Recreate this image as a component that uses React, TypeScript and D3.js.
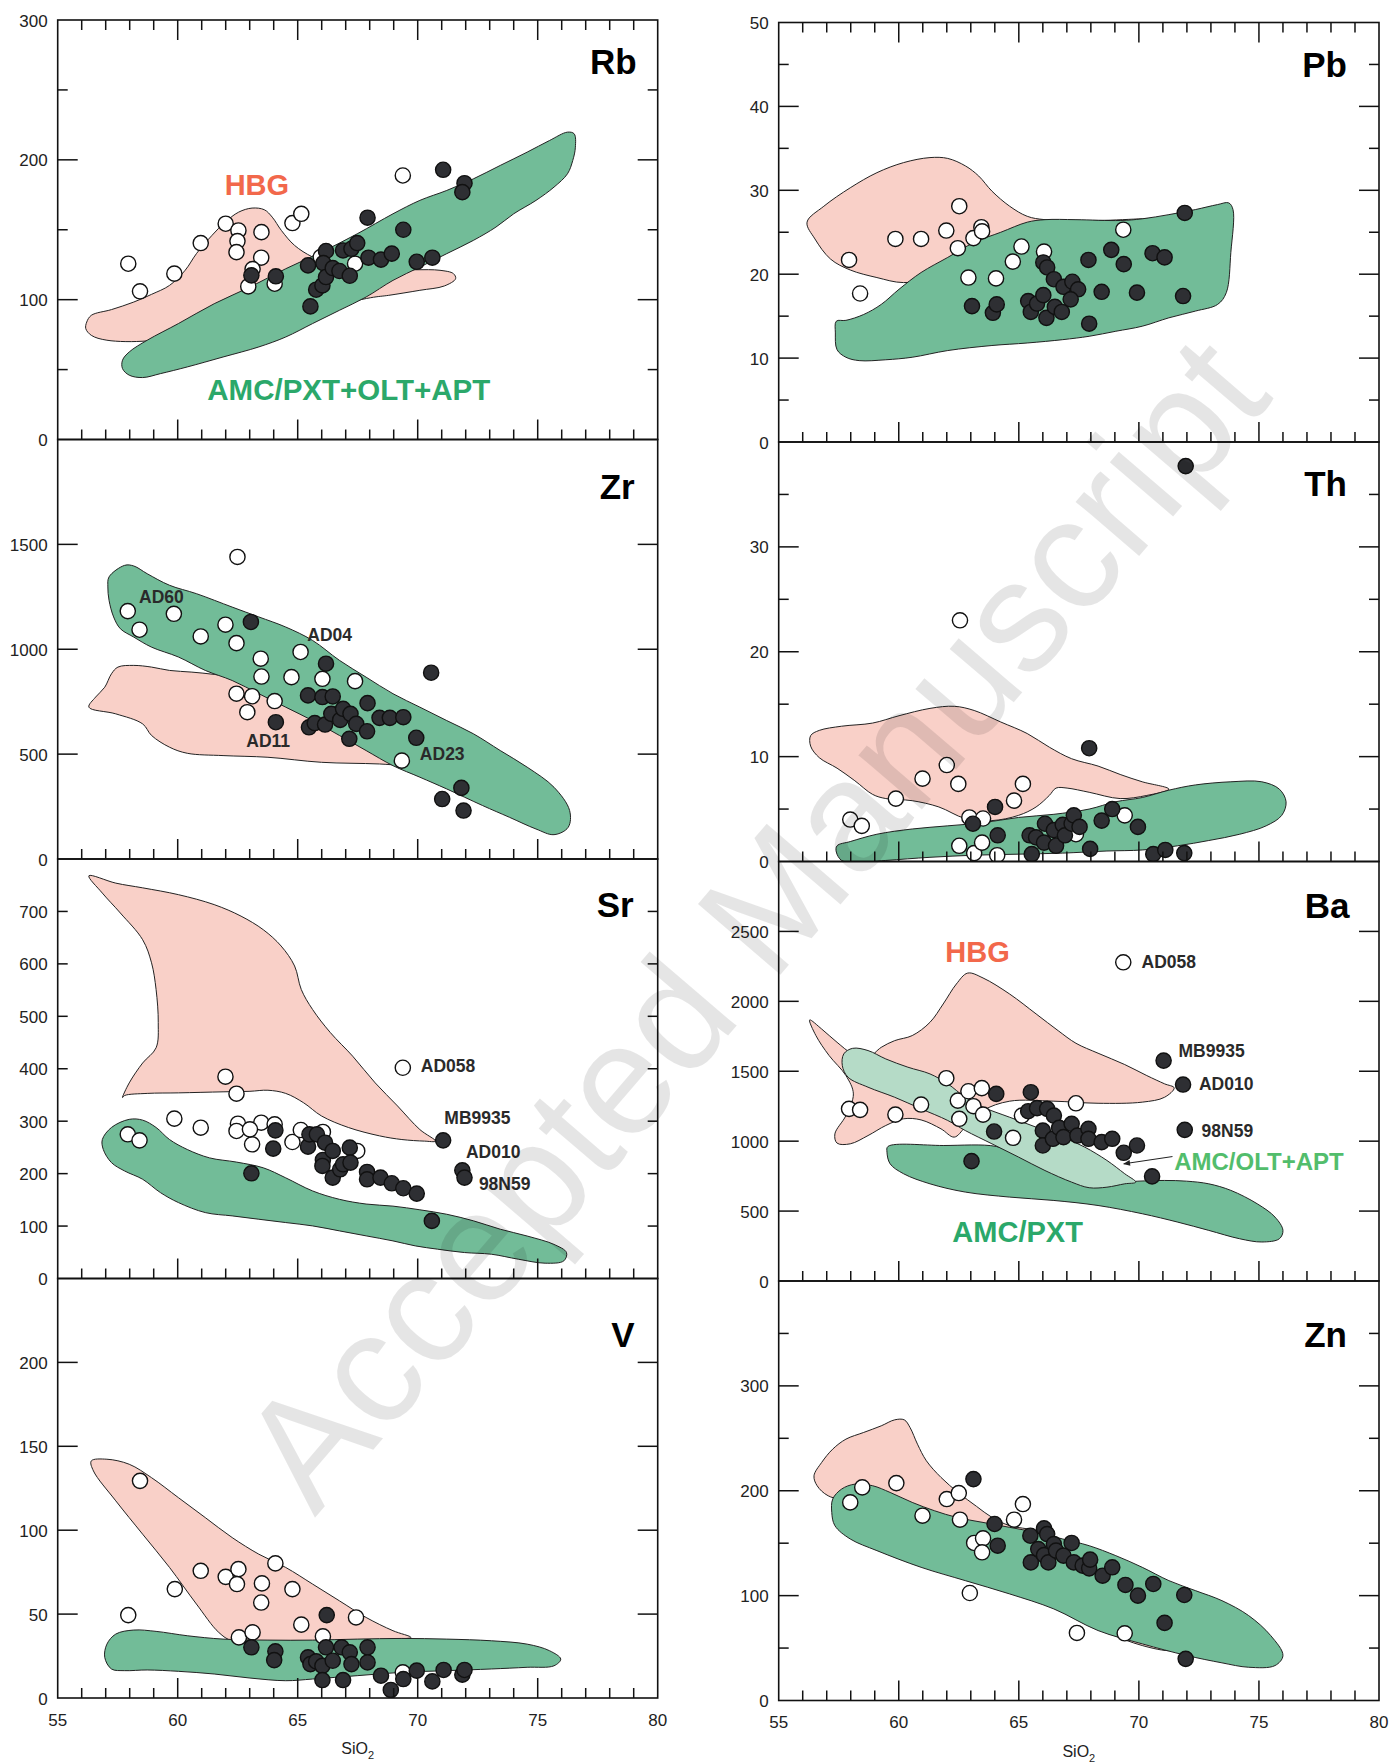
import React from "react";
import * as d3 from "d3";

type P = [number, number];

const FONT = "'Liberation Sans', Arial, Helvetica, sans-serif";
const W = 1393;
const H = 1764;

const PINK = "#F9D0C8";
const GREEN = "#72BC98";
const LIGHT_GREEN = "#B5DBC7";
const DARK_PT = "#2E2F33";
const HBG_TEXT = "#F2684B";
const AMC_TEXT = "#2BA86A";
const OLT_TEXT = "#52BD6C";
const NOTE_TEXT = "#2A2A2A";

// ---------- Rb ----------
const rbOpen: P[] = [[57.94,125.7],[58.43,106],[59.86,118.6],[60.96,140.5],[62.0,154.3],[62.53,149.5],[62.49,141.9],[62.45,134],[63.49,148.3],[63.48,130],[63.12,121.9],[62.94,109.5],[64.04,111.4],[64.78,154.8],[65.15,161.4],[69.38,188.8],[67.39,125.7],[65.96,130.5]];
const rbFilled: P[] = [[71.06,192.9],[71.95,183.3],[71.86,176.9],[67.91,158.6],[69.4,150],[63.07,117.4],[64.09,116.7],[65.43,124.5],[65.53,95.2],[65.77,107.1],[66.03,110.2],[66.18,134.8],[66.07,126.2],[66.18,116.2],[66.46,122.6],[66.74,120.5],[66.89,135.2],[67.17,117.1],[67.24,136.4],[67.48,140.5],[67.95,130],[68.47,128.6],[68.92,132.9],[69.96,127.1],[70.61,130]];
const rbHBG: P[] = [[56.21,84],[56.4,88.8],[57.24,92.9],[58.17,98.3],[58.91,103.8],[59.66,110.2],[60.31,121],[60.78,132.9],[61.43,146],[61.98,155.5],[62.54,162.6],[63.1,165.5],[63.61,164.3],[63.94,159],[64.32,149.5],[64.87,138.8],[65.62,130.5],[66.74,123.3],[68.41,121],[69.9,121.4],[70.93,121],[71.49,118.6],[71.58,115],[71.11,109.8],[70.09,106.7],[68.79,103.1],[68.04,101.4],[63.76,85.2],[60.4,75.7],[58.73,70.5],[57.05,71],[56.4,74.5],[56.17,79.3]];
const rbAMC: P[] = [[57.7,56.7],[57.98,62.6],[58.73,71],[60.03,82.9],[61.52,97.1],[63.01,109],[64.5,122.1],[65.99,134],[67.48,147.1],[68.97,161.4],[70.09,171],[71.21,178.1],[72.32,186.4],[73.44,196],[74.56,205.5],[75.49,213.8],[76.24,219.8],[76.52,218.6],[76.57,209],[76.46,199.5],[76.24,190],[75.68,180.5],[74.93,171],[74,161.4],[73.26,151.9],[72.32,142.4],[71.21,132.9],[70.09,123.3],[68.97,113.8],[67.85,101.9],[66.74,92.4],[65.62,82.9],[64.5,73.3],[63.38,66.2],[61.89,59],[60.4,51.9],[59.28,47.1],[58.54,44.3],[57.98,46],[57.7,50.7]];

// ---------- Zr ----------
const zrOpen: P[] = [[57.92,1182],[58.41,1093],[59.84,1169],[60.96,1061],[61.99,1117],[62.49,1440],[62.45,1029],[63.46,955],[63.49,870],[62.45,788],[63.1,776],[62.9,700],[64.04,753],[64.74,867],[65.12,987],[66.03,859],[67.39,848],[69.34,469]];
const zrFilled: P[] = [[63.05,1130],[66.18,931],[70.56,888],[65.43,780],[66.03,772],[66.46,775],[64.09,652],[65.47,628],[65.71,648],[66.14,641],[66.4,692],[66.77,663],[66.89,716],[67.2,692],[67.44,644],[67.15,573],[67.89,609],[67.91,743],[68.41,673],[68.84,673],[69.4,676],[69.94,578],[71.02,286],[71.82,339],[71.91,231]];
const zrHBG: P[] = [[56.3,724],[56.58,772],[56.96,819],[57.24,883],[57.51,915],[58.17,923],[58.91,915],[59.66,899],[60.59,891],[61.52,880],[62.64,859],[64.13,788],[65.62,692],[67.48,581],[69.34,485],[70.46,445],[70.09,441],[68.41,453],[65.99,461],[63.76,485],[61.89,493],[60.4,504],[59.66,533],[58.91,589],[58.54,644],[57.42,692]];
const zrAMC: P[] = [[57.14,1345],[57.79,1400],[58.17,1397],[58.73,1360],[59.66,1305],[60.78,1265],[62.27,1201],[63.38,1154],[64.5,1106],[65.62,1042],[66.74,947],[67.85,867],[68.97,788],[70.09,724],[71.21,660],[72.32,597],[73.44,517],[74.56,438],[75.68,342],[76.33,231],[76.27,151],[75.68,116],[74.93,143],[73.82,199],[72.7,255],[71.21,334],[70.09,390],[68.97,445],[67.85,517],[66.74,589],[65.62,660],[64.5,724],[63.38,788],[62.27,851],[61.15,899],[60.03,963],[58.91,1010],[58.17,1058],[57.61,1098],[57.33,1154],[57.14,1233],[57.09,1297]];

// ---------- Sr ----------
const srOpen: P[] = [[57.92,275],[58.41,263.5],[59.86,304.8],[60.96,287.6],[61.99,384.8],[62.45,352.4],[62.51,295.2],[62.45,281.3],[63.1,255.9],[63.48,297.1],[64.04,294],[63.01,284.4],[64.78,260.3],[65.13,283.2],[66.05,279.4],[67.48,243.2],[69.38,401.9]];
const srFilled: P[] = [[64.07,282.5],[63.98,247.6],[63.07,200.6],[65.43,251.4],[65.49,274.9],[65.8,274.9],[66.14,259],[66.05,226],[66.03,214.6],[66.46,243.2],[66.46,192.4],[66.77,208.3],[66.89,217.8],[67.17,249.5],[67.2,221],[67.89,203.2],[67.89,189.2],[68.45,192.4],[68.92,181.6],[69.4,172.1],[69.96,161.9],[71.06,263.5],[71.86,206.3],[71.95,192.4],[70.59,109.8]];
const srHBG: P[] = [[56.3,768],[57.42,754],[58.54,745],[60.03,732],[61.52,713],[62.64,691],[63.57,665],[64.31,634],[64.87,596],[65.15,551],[65.62,513],[66.36,469],[67.29,424],[68.23,373],[69.16,329],[70.09,284],[70.74,262],[70.28,262],[69.34,265],[68.41,272],[67.11,288],[65.99,310],[65.25,335],[64.5,353],[63.76,359],[63.01,357],[61.89,356],[60.03,354],[58.73,353],[57.79,349],[57.7,345],[57.98,373],[58.54,411],[59.1,440],[59.19,488],[59.1,551],[58.91,602],[58.54,646],[57.61,697],[56.86,735]];
const srAMC: P[] = [[56.86,265],[57.24,288],[57.98,303.5],[58.54,302],[59.1,288],[59.66,265],[60.4,246],[61.33,230],[62.45,222],[63.57,211],[64.5,192],[65.62,167],[66.74,151],[67.85,142],[68.97,138],[70.09,131],[71.21,122.5],[72.32,110],[73.44,94],[74.56,81],[75.68,65],[76.2,49.5],[76.09,33.7],[75.31,29.2],[74.19,36.8],[73.07,46.3],[71.95,49.5],[70.83,55.9],[69.9,62.2],[68.97,71.7],[67.85,81.3],[66.74,90.8],[65.62,100.3],[64.5,106.7],[63.38,113],[62.27,119.4],[61.15,125.7],[60.03,144.8],[59.28,163.8],[58.54,189.2],[57.79,205],[57.24,221],[56.9,246]];

// ---------- V ----------
const vOpen: P[] = [[57.94,49.4],[58.43,129.4],[59.88,64.9],[60.96,75.8],[62.0,72.2],[62.53,76.8],[62.47,67.9],[63.51,68.3],[63.48,56.9],[64.07,80.2],[64.78,64.9],[65.15,43.7],[67.43,48],[62.55,36.1],[63.12,39.1],[66.05,36.7],[69.38,15.3]];
const vFilled: P[] = [[66.21,49.4],[63.07,30.2],[64.07,27.8],[64.02,22.6],[65.43,24.2],[65.53,20.2],[65.77,21.8],[66.03,19.2],[66.18,30.2],[66.03,10.7],[66.46,22.2],[66.83,30.2],[67.17,27.2],[67.24,20.2],[66.89,10.7],[67.91,30.2],[67.91,21.2],[68.47,13.3],[68.88,4.8],[69.4,11.3],[69.96,16.3],[70.61,9.9],[71.08,16.7],[71.86,13.9],[71.95,16.7]];
const vHBG: P[] = [[56.4,141.3],[57.05,142.3],[57.98,139.3],[58.91,131.3],[60.03,119.4],[61.15,107.5],[62.27,95.6],[63.38,85.7],[64.5,77.8],[65.62,67.9],[66.74,57.9],[67.85,48],[68.97,40.1],[69.72,36.1],[68.97,35.1],[67.48,34.1],[65.62,34.1],[63.76,34.1],[62.27,34.1],[61.71,39.1],[60.78,56],[59.66,77.8],[58.54,97.6],[57.42,117.5],[56.49,135.3]];
const vAMC: P[] = [[57.05,32.1],[57.42,38.1],[58.17,40.5],[59.1,39.7],[60.4,37.1],[61.89,35.1],[63.76,34.5],[65.62,34.5],[67.48,35.1],[69.34,35.5],[71.21,35.1],[73.07,34.1],[74.56,32.1],[75.49,28.2],[75.96,23.2],[75.68,19.2],[74.56,18.3],[73.07,17.3],[71.21,16.3],[69.34,15.3],[67.48,13.3],[65.62,11.3],[64.5,10.3],[63.01,11.9],[61.52,14.3],[60.03,15.9],[58.73,16.7],[57.79,16.3],[57.24,17.3],[56.96,24.2]];

// ---------- Pb ----------
const pbOpen: P[] = [[57.93,21.7],[58.39,17.7],[59.86,24.2],[60.93,24.2],[61.98,25.2],[62.52,28.1],[62.46,23.1],[63.11,24.3],[63.44,25.6],[63.47,25.1],[62.9,19.6],[64.05,19.5],[64.75,21.5],[65.11,23.3],[66.05,22.7],[69.35,25.3]];
const pbFilled: P[] = [[71.91,27.3],[71.84,17.4],[63.05,16.2],[63.92,15.4],[64.08,16.4],[65.39,16.8],[65.5,15.5],[65.76,16.5],[66.02,17.5],[66.02,21.4],[66.18,20.8],[66.15,14.8],[66.46,19.4],[66.5,16.1],[66.79,15.5],[66.86,18.5],[67.23,19.1],[67.47,18.2],[67.16,17],[67.9,21.7],[68.45,17.9],[67.93,14.1],[68.85,22.9],[69.37,21.2],[69.92,17.8],[70.57,22.5],[71.07,22]];
const pbHBG: P[] = [[56.18,26.2],[56.88,28.1],[57.98,30.3],[59.09,32.1],[60.2,33.3],[61.3,33.9],[62.04,33.8],[62.78,32.9],[63.33,31.7],[63.88,29.9],[64.62,28.1],[65.35,26.9],[66.09,26.5],[68.3,26.4],[70.14,26.6],[70.51,26.6],[69.22,25],[64.62,21],[61.85,19.8],[60.2,19],[59.09,19.6],[57.98,20.5],[57.16,21.8],[56.51,24.2]];
const pbAMC: P[] = [[57.4,14.4],[57.8,14.5],[58.54,15.2],[59.27,16.4],[60.01,18.2],[60.93,20.2],[62.04,22],[63.15,23.8],[64.25,25],[65.35,26.2],[66.09,26.5],[67.38,26.5],[69.22,26.4],[70.14,26.6],[71.25,27.1],[72.35,27.7],[73.28,28.3],[73.74,28.5],[73.92,27.7],[73.83,22.6],[73.64,17.8],[73.28,16.4],[72.35,15.6],[71.25,14.8],[70.14,13.8],[69.04,13.2],[67.93,12.6],[66.83,12.2],[65.35,11.8],[63.88,11.5],[62.04,10.9],[60.56,10.1],[59.46,9.8],[58.35,9.7],[57.8,10.1],[57.43,11],[57.36,13]];

// ---------- Th ----------
const thOpen: P[] = [[57.98,4],[58.46,3.4],[59.88,6],[60.99,7.9],[62.0,9.2],[62.48,7.4],[62.55,23],[62.94,4.2],[63.51,4.1],[62.52,1.5],[63.14,0.8],[63.47,1.8],[64.1,0.6],[64.8,5.8],[65.17,7.4],[67.38,2.6],[69.41,4.4]];
const thFilled: P[] = [[71.95,37.7],[67.93,10.8],[64.01,5.2],[63.09,3.6],[64.12,2.5],[65.54,0.7],[65.45,2.5],[65.72,2.3],[66.05,1.8],[66.09,3.6],[66.46,3],[66.55,1.5],[66.83,3.5],[66.92,2.5],[67.2,3.6],[67.29,4.4],[67.53,3.3],[67.97,1.2],[68.45,3.9],[68.89,5],[69.96,3.3],[70.6,0.7],[71.1,1.1],[71.89,0.8]];
const thHBG: P[] = [[56.33,12],[56.69,12.5],[57.62,12.9],[58.91,13.2],[60.01,13.9],[61.3,14.6],[62.31,14.8],[63.14,14.4],[64.25,13.3],[65.35,12.2],[66.27,10.9],[67.2,9.8],[68.3,9.1],[69.22,8.3],[70.14,7.6],[71.25,6.9],[70.33,6.3],[69.22,6],[67.93,6.6],[67.01,7],[66.55,7],[66.27,6.3],[65.72,5.2],[64.99,4.4],[63.88,3.9],[62.77,4.1],[61.67,5.2],[60.56,5.8],[59.46,6],[58.91,6.4],[58.17,7.7],[57.43,8.9],[56.69,9.9],[56.33,11]];
const thAMC: P[] = [[57.43,1.5],[57.98,1.9],[59.09,2.6],[60.56,3.1],[62.04,3.4],[63.51,3.7],[64.99,4.2],[66.46,4.5],[67.93,5],[69.04,5.7],[70.14,6.1],[71.25,6.8],[72.35,7.3],[73.83,7.6],[75.12,7.6],[75.85,6.9],[76.13,5.7],[75.95,4.4],[75.3,3.4],[74.2,2.6],[72.91,2],[71.62,1.5],[70.14,1.1],[68.67,1],[66.83,0.8],[64.99,0.7],[63.14,0.6],[61.3,0.4],[59.46,0.1],[58.17,-0.1],[57.62,0.1],[57.4,0.9]];

// ---------- Ba ----------
const baOpen: P[] = [[57.93,1231],[58.39,1224],[59.86,1190],[60.93,1262],[61.98,1450],[62.46,1290],[62.52,1160],[62.9,1357],[63.11,1250],[63.46,1379],[63.51,1190],[64.76,1024],[65.13,1183],[67.38,1271],[69.35,2279]];
const baFilled: P[] = [[71.03,1576],[71.84,1405],[71.91,1081],[64.06,1338],[65.5,1350],[63.97,1069],[63.03,857],[70.55,748],[65.39,1214],[65.76,1236],[66.18,1231],[66.46,1183],[66.0,1076],[66.0,969],[66.42,1017],[66.68,1095],[66.86,1029],[67.2,1124],[67.44,1040],[67.9,1088],[67.9,1017],[68.45,993],[68.89,1017],[69.37,917],[69.92,969]];
const baHBG: P[] = [[56.29,1867],[56.79,1802],[57.43,1707],[58.08,1624],[58.72,1600],[59.27,1671],[59.83,1719],[60.56,1755],[61.3,1850],[61.85,1981],[62.4,2124],[62.87,2202],[63.51,2167],[64.62,2052],[65.72,1910],[66.64,1790],[67.38,1700],[68.3,1629],[69.41,1548],[70.33,1469],[71.07,1410],[71.47,1381],[71.07,1314],[70.14,1279],[68.3,1271],[66.46,1286],[64.62,1286],[63.51,1219],[62.77,1100],[62.31,1029],[61.76,1088],[60.93,1152],[60.2,1160],[59.46,1112],[58.72,1040],[57.98,981],[57.43,986],[57.34,1052],[57.8,1183],[58.11,1338],[57.8,1469],[57.1,1612],[56.55,1755]];
const baOLT: P[] = [[57.71,1624],[58.08,1664],[58.72,1648],[59.46,1588],[60.38,1529],[61.3,1481],[62.04,1410],[62.77,1314],[63.51,1243],[64.62,1171],[65.72,1100],[66.83,1029],[67.75,957],[68.67,862],[69.41,767],[69.87,707],[69.41,695],[68.67,671],[67.93,667],[67.2,707],[66.09,790],[64.99,886],[63.88,981],[62.77,1076],[62.04,1148],[60.93,1231],[59.83,1314],[58.72,1386],[57.89,1457],[57.65,1540]];
const baPXT: P[] = [[59.55,962],[61.85,969],[64.06,962],[64.99,898],[66.09,814],[67.56,731],[69.22,707],[69.96,714],[71.07,719],[71.99,714],[72.91,695],[73.83,648],[74.93,552],[75.67,457],[76,362],[75.85,302],[75.12,279],[74.2,302],[72.91,362],[71.62,421],[70.14,481],[68.3,540],[66.46,576],[64.62,600],[62.77,636],[61.3,695],[60.2,767],[59.64,838],[59.51,921]];

// ---------- Zn ----------
const znOpen: P[] = [[57.98,188.9],[58.48,203.2],[59.9,207.3],[60.99,176.2],[62.0,192.1],[62.5,197.8],[62.55,172.4],[63.14,150.2],[63.51,154.6],[63.47,141.3],[62.96,102.5],[64.8,172.4],[65.17,187.3],[67.42,64.4],[69.41,64.1]];
const znFilled: P[] = [[63.11,211.1],[63.99,168.3],[64.12,147.6],[65.48,157.1],[65.5,131.7],[65.81,144.4],[66.05,164.1],[66.18,158.7],[66.05,138.7],[66.23,131.7],[66.46,149.2],[66.55,142.9],[66.86,138.1],[67.2,150.2],[67.29,131.7],[67.66,128.6],[67.93,126],[67.97,134.3],[68.49,119],[68.89,127],[69.44,110.2],[69.96,100],[70.6,111.1],[71.89,100.6],[71.07,74],[71.95,39.7]];
const znHBG: P[] = [[56.47,214.3],[56.79,227],[57.25,239.7],[57.8,249.2],[58.54,255.6],[59.27,261.9],[59.83,267.6],[60.23,267.6],[60.47,260.3],[60.78,244.4],[61.15,228.6],[61.76,212.7],[62.5,197.8],[63.24,185.1],[63.88,174.6],[64.62,166.7],[65.72,161.9],[66.83,150.8],[68.3,131.7],[69.78,112.7],[70.88,93.7],[71.43,68.3],[71.71,50.8],[71.34,47.6],[70.14,52.4],[68.67,65.1],[67.2,84.1],[64.62,125.4],[60.93,169.8],[58.17,188.9],[57.06,195.2],[56.6,204.8]];
const znAMC: P[] = [[57.25,192.1],[57.62,201.6],[58.17,206.3],[58.91,204.8],[59.64,198.4],[60.56,188.9],[61.48,181],[62.41,174.6],[63.51,169.8],[64.62,165.1],[65.72,160.3],[66.83,154],[67.93,147.6],[69.04,138.1],[70.14,127],[71.25,114.3],[72.35,104.8],[73.46,95.2],[74.57,81],[75.49,61.9],[76,42.9],[75.67,33.3],[74.57,31.7],[73.46,35.9],[71.99,42.9],[70.14,54],[68.3,66.7],[66.46,87.3],[64.62,101.6],[62.77,114.3],[60.93,127],[59.09,142.9],[57.98,154],[57.34,166.7],[57.21,179.4]];

// Axis ticks
const xLabels = [55, 60, 65, 70, 75, 80];
const xTicks = d3.range(56, 80);

interface Field { pts: P[]; fill: string }
interface Note { text: string; at: P; size: number; color: string; anchor?: "start" | "middle" | "end" }
interface Panel {
  name: string;
  col: 0 | 1;
  row: number;
  yMax: number;
  labels: number[];
  longTicks: number[];
  shortTicks: number[];
  fields: Field[];
  open: P[];
  filled: P[];
  notes: Note[];
  titleInset: number;
  titleBase: number;
  arrow?: [P, P];
}

const panels: Panel[] = [
  {
    name: "Rb", col: 0, row: 0, yMax: 300,
    labels: [0, 100, 200, 300], longTicks: [100, 200], shortTicks: [50, 150, 250],
    fields: [{ pts: rbHBG, fill: PINK }, { pts: rbAMC, fill: GREEN }],
    open: rbOpen, filled: rbFilled,
    notes: [
      { text: "HBG", at: [63.3, 174.8], size: 29, color: HBG_TEXT, anchor: "middle" },
      { text: "AMC/PXT+OLT+APT", at: [67.13, 28.2], size: 29.5, color: AMC_TEXT, anchor: "middle" },
    ],
    titleInset: 21, titleBase: 54,
  },
  {
    name: "Zr", col: 0, row: 1, yMax: 2000,
    labels: [0, 500, 1000, 1500], longTicks: [500, 1000, 1500], shortTicks: [],
    fields: [{ pts: zrHBG, fill: PINK }, { pts: zrAMC, fill: GREEN }],
    open: zrOpen, filled: zrFilled,
    notes: [
      { text: "AD60", at: [58.39, 1222], size: 17.5, color: NOTE_TEXT },
      { text: "AD04", at: [65.4, 1039], size: 17.5, color: NOTE_TEXT },
      { text: "AD11", at: [62.86, 532], size: 17.5, color: NOTE_TEXT },
      { text: "AD23", at: [70.09, 472], size: 17.5, color: NOTE_TEXT },
    ],
    titleInset: 23, titleBase: 59.5,
  },
  {
    name: "Sr", col: 0, row: 2, yMax: 800,
    labels: [0, 100, 200, 300, 400, 500, 600, 700], longTicks: [], shortTicks: [100, 200, 300, 400, 500, 600, 700],
    fields: [{ pts: srHBG, fill: PINK }, { pts: srAMC, fill: GREEN }],
    open: srOpen, filled: srFilled,
    notes: [
      { text: "AD058", at: [70.13, 394.2], size: 17.5, color: NOTE_TEXT },
      { text: "MB9935", at: [71.11, 293.7], size: 17.5, color: NOTE_TEXT },
      { text: "AD010", at: [72.01, 230.2], size: 17.5, color: NOTE_TEXT },
      { text: "98N59", at: [72.55, 168.8], size: 17.5, color: NOTE_TEXT },
    ],
    titleInset: 24, titleBase: 58,
  },
  {
    name: "V", col: 0, row: 3, yMax: 250,
    labels: [0, 50, 100, 150, 200], longTicks: [50, 100, 150, 200], shortTicks: [],
    fields: [{ pts: vHBG, fill: PINK }, { pts: vAMC, fill: GREEN }],
    open: vOpen, filled: vFilled, notes: [],
    titleInset: 23, titleBase: 68.5,
  },
  {
    name: "Pb", col: 1, row: 0, yMax: 50,
    labels: [0, 10, 20, 30, 40, 50], longTicks: [10, 20, 30, 40], shortTicks: [5, 15, 25, 35, 45],
    fields: [{ pts: pbHBG, fill: PINK }, { pts: pbAMC, fill: GREEN }],
    open: pbOpen, filled: pbFilled, notes: [],
    titleInset: 32, titleBase: 54.5,
  },
  {
    name: "Th", col: 1, row: 1, yMax: 40,
    labels: [0, 10, 20, 30], longTicks: [10, 20, 30], shortTicks: [5, 15, 25, 35],
    fields: [{ pts: thHBG, fill: PINK }, { pts: thAMC, fill: GREEN }],
    open: thOpen, filled: thFilled, notes: [],
    titleInset: 32, titleBase: 54,
  },
  {
    name: "Ba", col: 1, row: 2, yMax: 3000,
    labels: [0, 500, 1000, 1500, 2000, 2500], longTicks: [500, 1000, 1500, 2000, 2500], shortTicks: [],
    fields: [{ pts: baPXT, fill: GREEN }, { pts: baHBG, fill: PINK }, { pts: baOLT, fill: LIGHT_GREEN }],
    open: baOpen, filled: baFilled,
    notes: [
      { text: "HBG", at: [63.28, 2279], size: 29, color: HBG_TEXT, anchor: "middle" },
      { text: "AD058", at: [70.11, 2240], size: 17.5, color: NOTE_TEXT },
      { text: "MB9935", at: [71.65, 1604], size: 17.5, color: NOTE_TEXT },
      { text: "AD010", at: [72.5, 1366], size: 17.5, color: NOTE_TEXT },
      { text: "98N59", at: [72.61, 1032], size: 17.5, color: NOTE_TEXT },
      { text: "AMC/OLT+APT", at: [71.47, 794], size: 24, color: OLT_TEXT },
      { text: "AMC/PXT", at: [64.95, 277], size: 29, color: AMC_TEXT, anchor: "middle" },
    ],
    arrow: [[71.4, 890], [69.37, 838]],
    titleInset: 29.6, titleBase: 56.5,
  },
  {
    name: "Zn", col: 1, row: 3, yMax: 400,
    labels: [0, 100, 200, 300], longTicks: [100, 200, 300], shortTicks: [50, 150, 250, 350],
    fields: [{ pts: znHBG, fill: PINK }, { pts: znAMC, fill: GREEN }],
    open: znOpen, filled: znFilled, notes: [],
    titleInset: 32, titleBase: 66,
  },
];

const COLS = [
  { x0: 57.7, x1: 657.7, top: 20 },
  { x0: 778.7, x1: 1379, top: 22.5 },
];
const PANEL_H = 419.5;
const ROWS = 4;
const LONG = 20;
const SHORT = 10;
const STROKE = "#111";

function PanelView({ p }: { p: Panel }) {
  const c = COLS[p.col];
  const top = c.top + p.row * PANEL_H;
  const bottom = top + PANEL_H;
  const x = d3.scaleLinear().domain([55, 80]).range([c.x0, c.x1]);
  const y = d3.scaleLinear().domain([0, p.yMax]).range([bottom, top]);
  const area = d3
    .line<P>()
    .x((d) => x(d[0]))
    .y((d) => y(d[1]))
    .curve(d3.curveCatmullRomClosed.alpha(0.5));
  const clipId = `clip-${p.name}`;
  const isLast = p.row === ROWS - 1;

  return (
    <g>
      <defs>
        <clipPath id={clipId}>
          <rect x={c.x0} y={top} width={c.x1 - c.x0} height={bottom - top} />
        </clipPath>
      </defs>
      <g clipPath={`url(#${clipId})`}>
        {p.fields.map((f, i) => (
          <path key={i} d={area(f.pts) || ""} fill={f.fill} stroke="#222" strokeWidth={1} />
        ))}
        {p.open.map((d, i) => (
          <circle key={`o${i}`} cx={x(d[0])} cy={y(d[1])} r={7.6} fill="#fff" stroke={STROKE} strokeWidth={1.4} />
        ))}
        {p.filled.map((d, i) => (
          <circle key={`f${i}`} cx={x(d[0])} cy={y(d[1])} r={7.6} fill={DARK_PT} stroke={STROKE} strokeWidth={1.4} />
        ))}
      </g>

      {p.arrow && (
        <line
          x1={x(p.arrow[0][0])}
          y1={y(p.arrow[0][1])}
          x2={x(p.arrow[1][0])}
          y2={y(p.arrow[1][1])}
          stroke="#222"
          strokeWidth={1}
          markerEnd="url(#arrowhead)"
        />
      )}

      {p.notes.map((n, i) => (
        <text
          key={i}
          x={x(n.at[0])}
          y={y(n.at[1])}
          fontFamily={FONT}
          fontWeight="bold"
          fontSize={n.size}
          fill={n.color}
          textAnchor={n.anchor || "start"}
        >
          {n.text}
        </text>
      ))}

      <text
        x={c.x1 - p.titleInset}
        y={top + p.titleBase}
        fontFamily={FONT}
        fontWeight="bold"
        fontSize={35}
        textAnchor="end"
        fill="#000"
      >
        {p.name}
      </text>

      {/* frame */}
      <rect x={c.x0} y={top} width={c.x1 - c.x0} height={bottom - top} fill="none" stroke={STROKE} strokeWidth={1.6} />

      {/* x ticks on the bottom edge, and on the top edge of the first row */}
      {xTicks.map((v) => {
        const len = v % 5 === 0 ? LONG : SHORT;
        return (
          <g key={`xt${v}`}>
            <line x1={x(v)} x2={x(v)} y1={bottom} y2={bottom - len} stroke={STROKE} strokeWidth={1.5} />
            {p.row === 0 && <line x1={x(v)} x2={x(v)} y1={top} y2={top + len} stroke={STROKE} strokeWidth={1.5} />}
          </g>
        );
      })}

      {/* y ticks on both sides */}
      {[...p.longTicks.map((v) => [v, LONG]), ...p.shortTicks.map((v) => [v, SHORT])].map(([v, len]) => (
        <g key={`yt${v}`}>
          <line x1={c.x0} x2={c.x0 + len} y1={y(v)} y2={y(v)} stroke={STROKE} strokeWidth={1.5} />
          <line x1={c.x1} x2={c.x1 - len} y1={y(v)} y2={y(v)} stroke={STROKE} strokeWidth={1.5} />
        </g>
      ))}

      {p.labels.map((v) => (
        <text
          key={`yl${v}`}
          x={c.x0 - 10}
          y={y(v) + 1}
          fontFamily={FONT}
          fontSize={17}
          textAnchor="end"
          dominantBaseline="central"
          fill="#222"
        >
          {v}
        </text>
      ))}

      {isLast && (
        <g>
          {xLabels.map((v) => (
            <text key={`xl${v}`} x={x(v)} y={bottom + 27.5} fontFamily={FONT} fontSize={17} textAnchor="middle" fill="#222">
              {v}
            </text>
          ))}
          <text x={(c.x0 + c.x1) / 2} y={bottom + 56} fontFamily={FONT} fontSize={16} textAnchor="middle" fill="#222">
            SiO
            <tspan fontSize={11} dy={5}>2</tspan>
          </text>
        </g>
      )}
    </g>
  );
}

export default function App() {
  return (
    <div style={{ position: "absolute", left: 0, top: 0, width: W, height: H, background: "#fff" }}>
      <svg width={W} height={H} viewBox={`0 0 ${W} ${H}`} style={{ display: "block" }}>
        <defs>
          <marker id="arrowhead" viewBox="0 0 10 10" refX="9" refY="5" markerWidth="9" markerHeight="7" orient="auto" markerUnits="userSpaceOnUse">
            <path d="M0,1 L10,5 L0,9 z" fill="#222" />
          </marker>
        </defs>
        <rect width={W} height={H} fill="#fff" />
        {panels.map((p) => (
          <PanelView key={p.name} p={p} />
        ))}
        <text
          x={753}
          y={922}
          transform="rotate(-49.4 753 922)"
          fontFamily={FONT}
          fontSize={158}
          textAnchor="middle"
          dominantBaseline="central"
          fill="#000"
          fillOpacity={0.1}
          style={{ pointerEvents: "none" }}
        >
          Accepted Manuscript
        </text>
      </svg>
    </div>
  );
}
